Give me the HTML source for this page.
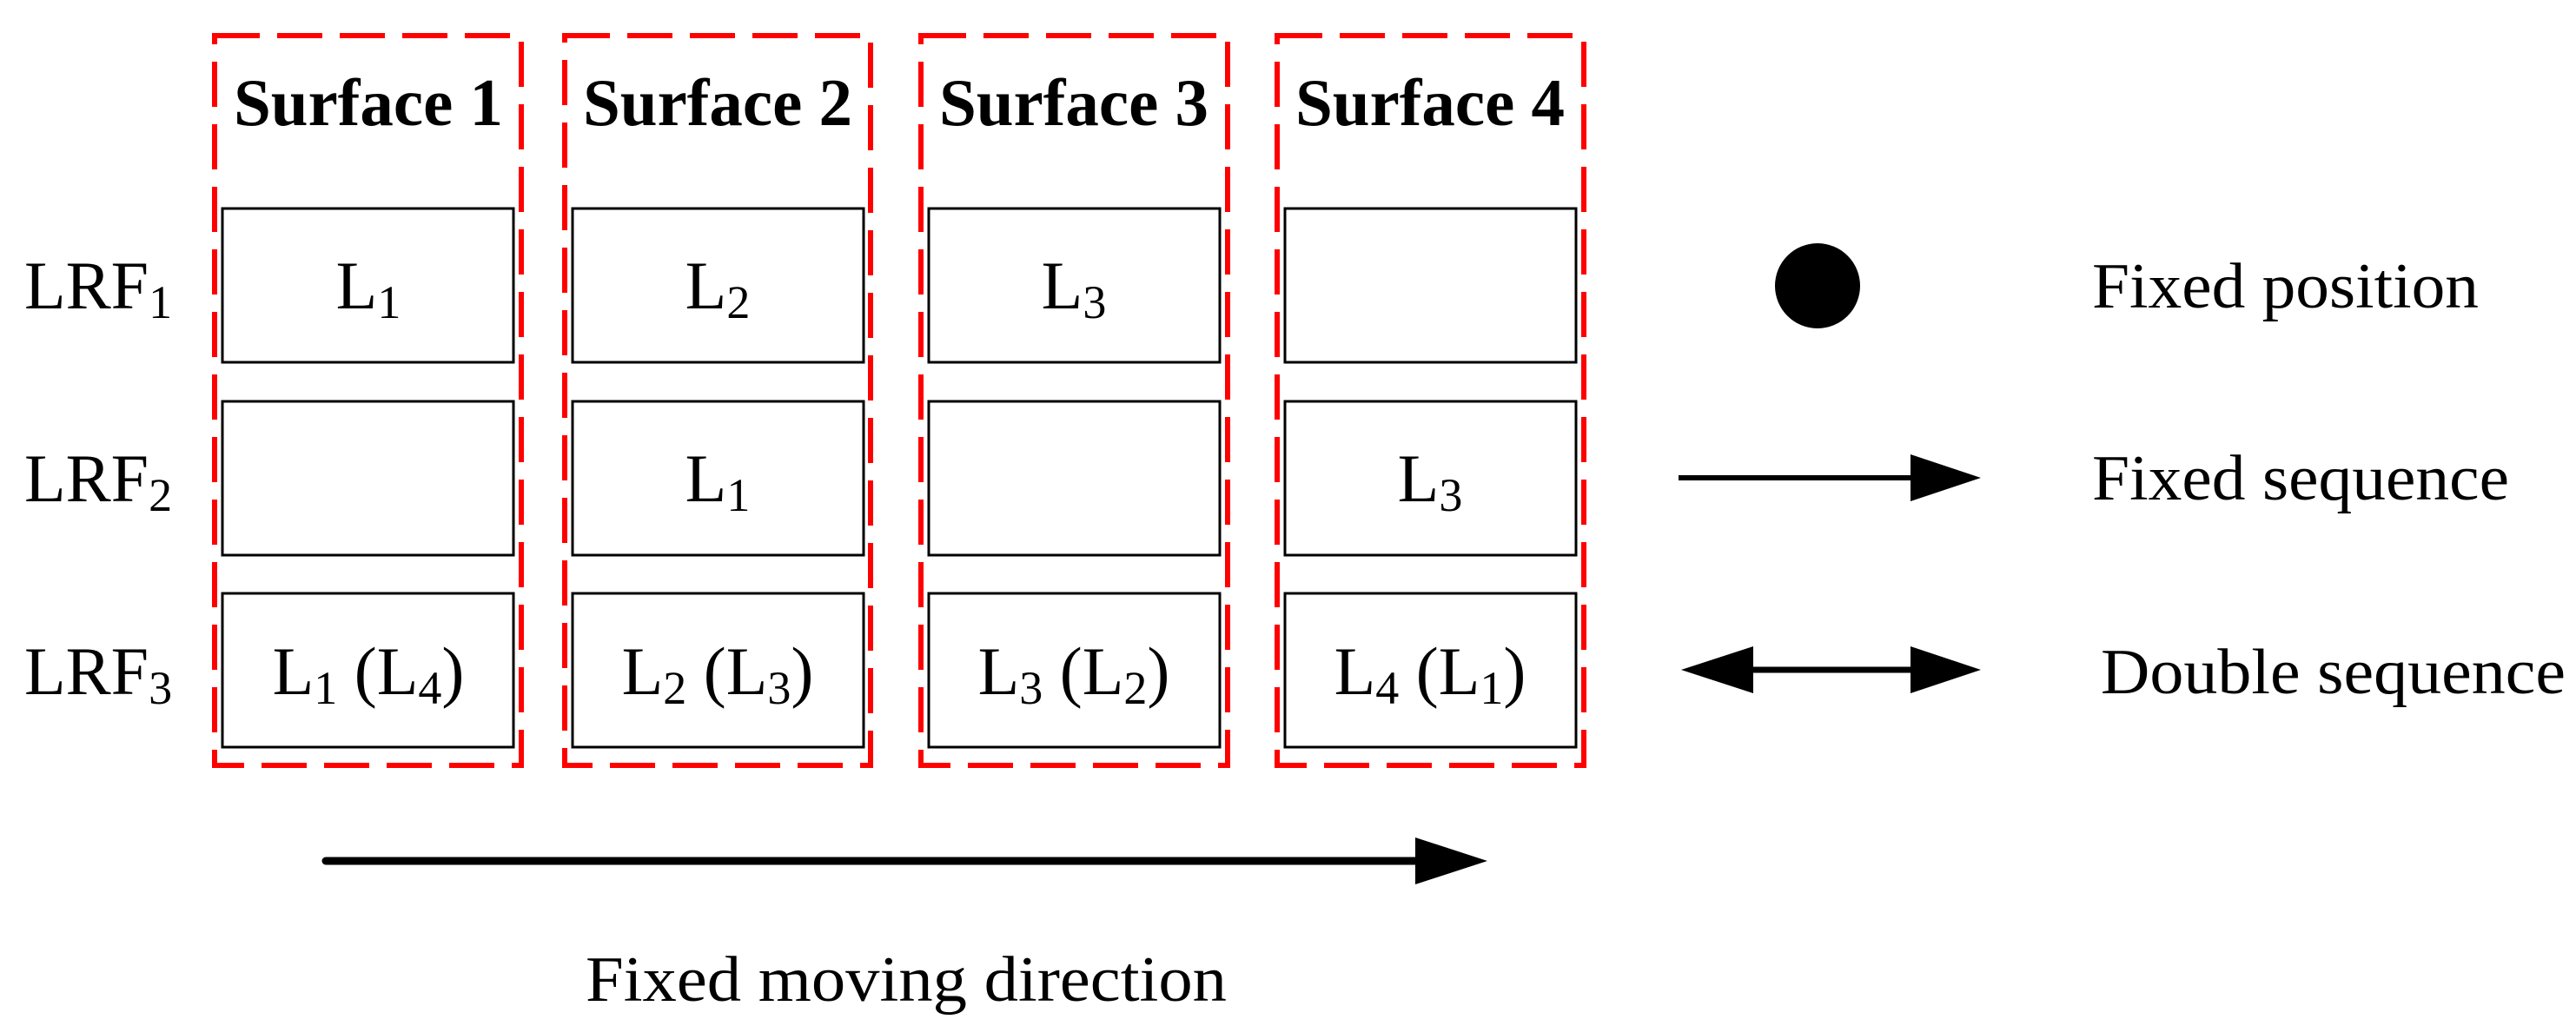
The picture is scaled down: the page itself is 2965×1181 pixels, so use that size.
<!DOCTYPE html>
<html><head><meta charset="utf-8"><style>
html,body{margin:0;padding:0;background:#fff;}
svg{display:block;}
text{font-family:"Liberation Serif",serif;fill:#000;}
</style></head><body>
<svg width="2965" height="1181" viewBox="0 0 2965 1181" xmlns="http://www.w3.org/2000/svg">
<g fill="none" stroke="#ff0000" stroke-width="6" stroke-dasharray="52 20">
<rect x="247" y="41" width="353" height="840"/>
<rect x="650" y="41" width="352" height="840"/>
<rect x="1060" y="41" width="353" height="840"/>
<rect x="1470" y="41" width="353" height="840"/>
</g>
<g font-weight="bold" font-size="77" text-anchor="middle">
<text x="424" y="144">Surface 1</text>
<text x="826" y="144">Surface 2</text>
<text x="1236" y="144">Surface 3</text>
<text x="1646" y="144">Surface 4</text>
</g>
<g fill="#fff" stroke="#000" stroke-width="3">
<rect x="256" y="240" width="335" height="177"/>
<rect x="256" y="462" width="335" height="177"/>
<rect x="256" y="683" width="335" height="177"/>
<rect x="659" y="240" width="335" height="177"/>
<rect x="659" y="462" width="335" height="177"/>
<rect x="659" y="683" width="335" height="177"/>
<rect x="1069" y="240" width="335" height="177"/>
<rect x="1069" y="462" width="335" height="177"/>
<rect x="1069" y="683" width="335" height="177"/>
<rect x="1479" y="240" width="335" height="177"/>
<rect x="1479" y="462" width="335" height="177"/>
<rect x="1479" y="683" width="335" height="177"/>
</g>
<g font-size="78">
<text x="28" y="355">LRF<tspan font-size="54" dy="11">1</tspan></text>
<text x="28" y="577">LRF<tspan font-size="54" dy="11">2</tspan></text>
<text x="28" y="799">LRF<tspan font-size="54" dy="11">3</tspan></text>
</g>
<g font-size="78" text-anchor="middle">
<text x="424" y="355">L<tspan font-size="54" dy="11">1</tspan></text>
<text x="826" y="355">L<tspan font-size="54" dy="11">2</tspan></text>
<text x="1236" y="355">L<tspan font-size="54" dy="11">3</tspan></text>
<text x="826" y="577">L<tspan font-size="54" dy="11">1</tspan></text>
<text x="1646" y="577">L<tspan font-size="54" dy="11">3</tspan></text>
<text x="424" y="799">L<tspan font-size="54" dy="11">1</tspan><tspan dy="-11"> (L</tspan><tspan font-size="54" dy="11">4</tspan><tspan dy="-11">)</tspan></text>
<text x="826" y="799">L<tspan font-size="54" dy="11">2</tspan><tspan dy="-11"> (L</tspan><tspan font-size="54" dy="11">3</tspan><tspan dy="-11">)</tspan></text>
<text x="1236" y="799">L<tspan font-size="54" dy="11">3</tspan><tspan dy="-11"> (L</tspan><tspan font-size="54" dy="11">2</tspan><tspan dy="-11">)</tspan></text>
<text x="1646" y="799">L<tspan font-size="54" dy="11">4</tspan><tspan dy="-11"> (L</tspan><tspan font-size="54" dy="11">1</tspan><tspan dy="-11">)</tspan></text>
</g>
<circle cx="2092" cy="329" r="49" fill="#000"/>
<line x1="1932" y1="550" x2="2200" y2="550" stroke="#000" stroke-width="6"/>
<polygon points="2199,523 2280,550 2199,577" fill="#000"/>
<line x1="2015" y1="771" x2="2200" y2="771" stroke="#000" stroke-width="7"/>
<polygon points="2199,744 2280,771 2199,798" fill="#000"/>
<polygon points="2018,744 1935,771 2018,798" fill="#000"/>
<g font-size="74">
<text x="2408" y="354" textLength="445" lengthAdjust="spacingAndGlyphs">Fixed position</text>
<text x="2408" y="575" textLength="480" lengthAdjust="spacingAndGlyphs">Fixed sequence</text>
<text x="2418" y="798" textLength="535" lengthAdjust="spacingAndGlyphs">Double sequence</text>
<text x="674" y="1152" textLength="738" lengthAdjust="spacingAndGlyphs">Fixed moving direction</text>
</g>
<line x1="375" y1="991" x2="1630" y2="991" stroke="#000" stroke-width="9" stroke-linecap="round"/>
<polygon points="1629,964 1712,991 1629,1018" fill="#000"/>
</svg>
</body></html>
